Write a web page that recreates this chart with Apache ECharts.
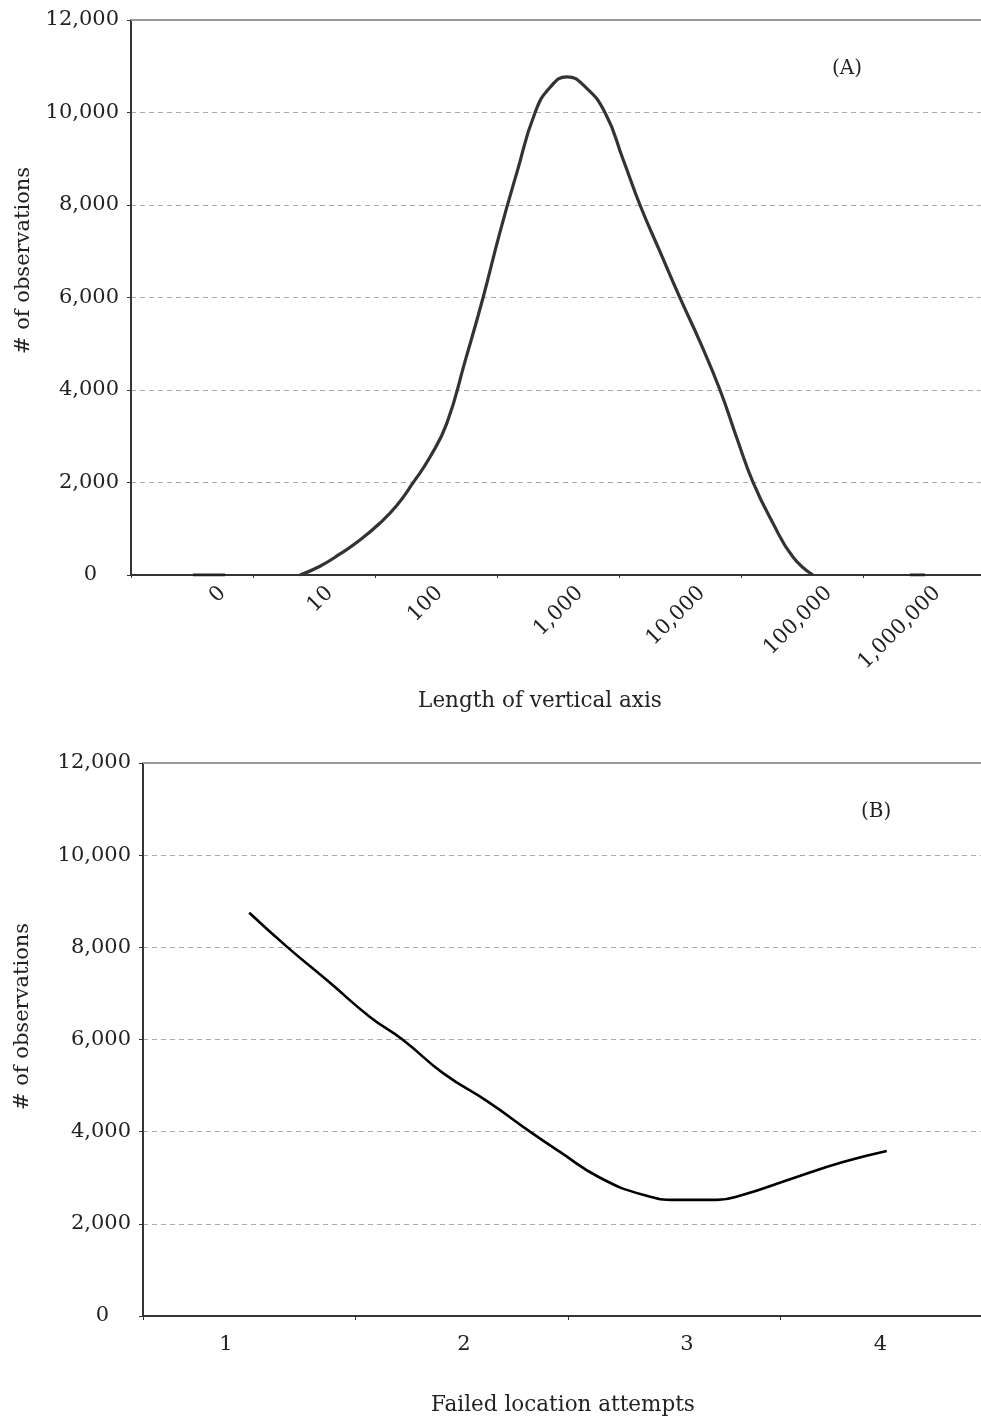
<!DOCTYPE html>
<html>
<head>
<meta charset="utf-8">
<script src="https://cdn.jsdelivr.net/npm/echarts@6/dist/echarts.min.js"></script>
<style>
  html, body { margin: 0; padding: 0; background: #fff; }
  #chart { width: 981px; height: 1424px; }
</style>
</head>
<body>
<div id="chart"></div>
<script>
// ---------- Panel A: length of vertical axis (log10 of length on x) ----------
const lengthLabels = ['0', '10', '100', '1,000', '10,000', '100,000', '1,000,000'];
const lengthLabelPos = [0.25, 1.13, 2.03, 3.18, 4.18, 5.22, 6.11];
const lengthLog = [0.885, 1.049, 1.213, 1.377, 1.541, 1.680, 1.811, 1.951, 2.090, 2.238, 2.385, 2.525, 2.664, 2.811, 2.934, 3.074, 3.221, 3.385, 3.533, 3.672, 3.836, 4.0, 4.164, 4.328, 4.467, 4.598, 4.762, 4.926, 5.090];
const lengthObs = [0, 190, 455, 757, 1124, 1510, 1990, 2550, 3290, 4620, 5990, 7420, 8710, 9990, 10540, 10770, 10560, 10000, 8990, 8000, 6990, 5990, 5040, 4000, 2950, 2010, 1120, 390, 0];
const zeroSegLeftLog = [0.008, 0.27];
const zeroSegRightLog = [5.885, 6.008];

// ---------- Panel B: failed location attempts ----------
const attemptLabels = ['1', '2', '3', '4'];
const attemptLabelPos = [0.89, 2.01, 3.06, 3.97];
const attempts = [1.0, 1.178, 1.38, 1.568, 1.724, 1.912, 2.133, 2.321, 2.462, 2.651, 2.853, 3.013, 3.201, 3.324, 3.559, 3.794, 4.0];
const attemptObs = [8750, 8010, 7230, 6490, 5990, 5270, 4620, 4000, 3560, 3000, 2630, 2520, 2520, 2630, 2990, 3340, 3580];

const yTicks = [0, 2000, 4000, 6000, 8000, 10000, 12000];

const FONT = 'DejaVu Serif';
const TXT = '#222';

function fmtNum(v) {
  return v.toLocaleString('en-US');
}

function yAxisFor(gridIndex, nameGapVal, namePad) {
  return {
    type: 'value', gridIndex: gridIndex,
    min: yTicks[0], max: yTicks[yTicks.length - 1], interval: 2000,
    name: '# of observations', nameLocation: 'middle', nameGap: nameGapVal,
    nameTextStyle: { fontFamily: FONT, fontSize: 21, color: TXT, padding: namePad },
    axisLine: { show: true, onZero: false, lineStyle: { color: '#333', width: 2 } },
    axisTick: { show: true, length: 4, lineStyle: { color: '#333', width: 1 } },
    axisLabel: {
      fontFamily: FONT, fontSize: 21, color: TXT, margin: 12,
      formatter: function (v) { return v === 0 ? '{z|0}' : fmtNum(v); },
      rich: { z: { fontFamily: FONT, fontSize: 21, color: TXT, padding: [0, 22, 0, 0] } }
    },
    splitLine: { show: true, lineStyle: { color: '#aaa', type: [5, 4], width: 1 } }
  };
}

const option = {
  backgroundColor: '#fff',
  animation: false,
  title: [
    { text: '(A)', left: 827, top: 54, textStyle: { fontFamily: FONT, fontSize: 20, fontWeight: 'normal', color: TXT } },
    { text: '(B)', left: 856, top: 797, textStyle: { fontFamily: FONT, fontSize: 20, fontWeight: 'normal', color: TXT } }
  ],
  grid: [
    { left: 131, top: 20, width: 854, height: 555, containLabel: false, outerBoundsMode: 'none' },
    { left: 143, top: 763, width: 850, height: 553, containLabel: false, outerBoundsMode: 'none' }
  ],
  xAxis: [
    {
      type: 'value', gridIndex: 0, min: -0.5, max: 6.5,
      name: 'Length of vertical axis', nameLocation: 'middle', nameGap: 115,
      nameTextStyle: { fontFamily: FONT, fontSize: 21.5, color: TXT, padding: [0, 36, 0, 0] },
      axisLine: { show: true, onZero: false, lineStyle: { color: '#333', width: 2 } },
      axisTick: { show: true, length: 3, customValues: [-0.5, 0.5, 1.5, 2.5, 3.5, 4.5, 5.5, 6.5], lineStyle: { color: '#333' } },
      axisLabel: {
        rotate: 45, margin: 15, fontFamily: FONT, fontSize: 21, color: TXT,
        customValues: lengthLabelPos,
        formatter: function (v) { return lengthLabels[Math.round(v)] || ''; }
      },
      splitLine: { show: false }
    },
    {
      type: 'value', gridIndex: 0, min: -0.5, max: 6.5, position: 'top',
      axisLine: { show: true, onZero: false, lineStyle: { color: '#999', width: 2 } },
      axisTick: { show: false }, axisLabel: { show: false }, splitLine: { show: false }
    },
    {
      type: 'value', gridIndex: 1, min: 0.5, max: 4.5,
      name: 'Failed location attempts', nameLocation: 'middle', nameGap: 78,
      nameTextStyle: { fontFamily: FONT, fontSize: 21.5, color: TXT, padding: [0, 10, 0, 0] },
      axisLine: { show: true, onZero: false, lineStyle: { color: '#333', width: 2 } },
      axisTick: { show: true, length: 4, customValues: [0.5, 1.5, 2.5, 3.5, 4.5], lineStyle: { color: '#333' } },
      axisLabel: {
        margin: 18, fontFamily: FONT, fontSize: 21, color: TXT,
        customValues: attemptLabelPos,
        formatter: function (v) { return attemptLabels[Math.round(v) - 1] || ''; }
      },
      splitLine: { show: false }
    },
    {
      type: 'value', gridIndex: 1, min: 0.5, max: 4.5, position: 'top',
      axisLine: { show: true, onZero: false, lineStyle: { color: '#999', width: 2 } },
      axisTick: { show: false }, axisLabel: { show: false }, splitLine: { show: false }
    }
  ],
  yAxis: [
    yAxisFor(0, 97, [0, 0, 0, 74]),
    yAxisFor(1, 110, [0, 0, 0, 46])
  ],
  series: [
    {
      type: 'line', xAxisIndex: 0, yAxisIndex: 0, smooth: 0.5, symbol: 'none',
      lineStyle: { color: '#333', width: 3.2 },
      data: lengthLog.map(function (x, i) { return [x, lengthObs[i]]; })
    },
    {
      type: 'line', xAxisIndex: 0, yAxisIndex: 0, symbol: 'none',
      lineStyle: { color: '#222', width: 3 },
      data: zeroSegLeftLog.map(function (x) { return [x, 0]; })
    },
    {
      type: 'line', xAxisIndex: 0, yAxisIndex: 0, symbol: 'none',
      lineStyle: { color: '#222', width: 3 },
      data: zeroSegRightLog.map(function (x) { return [x, 0]; })
    },
    {
      type: 'line', xAxisIndex: 2, yAxisIndex: 1, smooth: 0.5, symbol: 'none',
      lineStyle: { color: '#000', width: 2.6 },
      data: attempts.map(function (x, i) { return [x, attemptObs[i]]; })
    }
  ]
};

const chart = echarts.init(document.getElementById('chart'), null, { renderer: 'canvas' });
chart.setOption(option);
</script>
</body>
</html>
